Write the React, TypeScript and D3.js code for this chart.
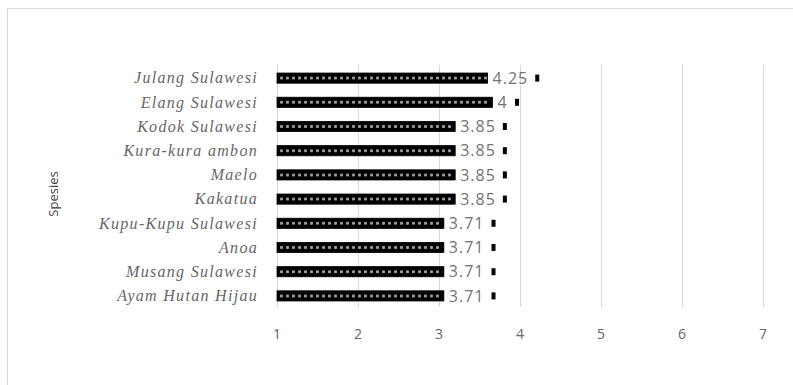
// horizontal bar chart of species scores, drawn with d3 into an svg ref
import React, { useEffect, useRef } from 'react';
import * as d3 from 'd3';

// categories top to bottom
const species = [
  'Julang Sulawesi',
  'Elang Sulawesi',
  'Kodok Sulawesi',
  'Kura-kura ambon',
  'Maelo',
  'Kakatua',
  'Kupu-Kupu Sulawesi',
  'Anoa',
  'Musang Sulawesi',
  'Ayam Hutan Hijau',
];
// the labelled scores (also where the small markers sit)
const scores = [4.25, 4, 3.85, 3.85, 3.85, 3.85, 3.71, 3.71, 3.71, 3.71];
// bar lengths as they are drawn in the picture
const barEnds = [3.6, 3.66, 3.2, 3.2, 3.2, 3.2, 3.06, 3.06, 3.06, 3.06];
const ticks = [1, 2, 3, 4, 5, 6, 7];

const App = () => {
  const ref = useRef<SVGSVGElement>(null);

  useEffect(() => {
    const width = 793;
    const height = 385;
    const svg = d3.select(ref.current);
    svg.selectAll('*').remove();
    svg.attr('width', width).attr('height', height).style('background', '#fff');

    const x = d3.scaleLinear().domain([1, 7]).range([277, 763]);
    const y = d3.scaleBand<string>().domain(species).range([66, 308]).paddingInner(0.58).paddingOuter(0.29);
    const bh = y.bandwidth();

    //pattern for the bars
    const defs = svg.append('defs');
    const pat = defs.append('pattern')
      .attr('id', 'dots')
      .attr('patternUnits', 'userSpaceOnUse')
      .attr('width', 6)
      .attr('height', 40)
      .attr('y', 0);
    pat.append('rect').attr('width', 6).attr('height', 40).attr('fill', '#000');

    //outer chart border (runs off the right and bottom edges)
    svg.append('rect')
      .attr('x', 7.5).attr('y', 8.5)
      .attr('width', width).attr('height', height)
      .attr('fill', 'none')
      .attr('stroke', '#d9d9d9');

    //gridlines
    svg.append('g')
      .selectAll('line')
      .data(ticks)
      .enter()
      .append('line')
        .attr('x1', d => x(d) + 0.5)
        .attr('x2', d => x(d) + 0.5)
        .attr('y1', 65)
        .attr('y2', 307)
        .attr('stroke', '#d9d9d9')
        .attr('stroke-width', 1);

    //tick labels
    svg.append('g')
      .selectAll('text')
      .data(ticks)
      .enter()
      .append('text')
        .attr('x', d => x(d))
        .attr('y', 334)
        .attr('dy', '0.35em')
        .attr('text-anchor', 'middle')
        .style('font-family', 'Open Sans')
        .style('font-size', '14px')
        .style('fill', '#666')
        .text(d => d);

    //bars
    const bars = svg.append('g');
    bars.selectAll('rect')
      .data(species)
      .enter()
      .append('rect')
        .attr('x', x(1))
        .attr('y', d => y(d)!)
        .attr('width', (d, i) => x(barEnds[i]) - x(1))
        .attr('height', bh)
        .attr('fill', '#000')
        .attr('stroke', '#000')
        .attr('stroke-width', 0.8);

    //the little light dots inside each bar
    species.forEach((s, i) => {
      const dots = d3.range(x(1) + 3, x(barEnds[i]) - 3, 6);
      bars.append('g')
        .selectAll('rect')
        .data(dots)
        .enter()
        .append('rect')
          .attr('x', d => d)
          .attr('y', y(s)! + bh / 2 - 1.5)
          .attr('width', 3)
          .attr('height', 3)
          .attr('rx', 1)
          .attr('fill', '#9a9a9a');
    });

    //value labels
    svg.append('g')
      .selectAll('text')
      .data(species)
      .enter()
      .append('text')
        .attr('x', (d, i) => x(barEnds[i]) + 5)
        .attr('y', d => y(d)! + bh / 2)
        .attr('dy', '0.36em')
        .style('font-family', 'Open Sans')
        .style('font-size', '16px')
        .style('letter-spacing', '1px')
        .style('fill', '#737373')
        .text((d, i) => scores[i]);

    //small markers at the score
    svg.append('g')
      .selectAll('rect')
      .data(species)
      .enter()
      .append('rect')
        .attr('x', (d, i) => x(scores[i]) - 5)
        .attr('y', d => y(d)! + bh / 2 - 3.5)
        .attr('width', 4)
        .attr('height', 7)
        .attr('fill', '#000');

    //category labels
    svg.append('g')
      .selectAll('text')
      .data(species)
      .enter()
      .append('text')
        .attr('x', 258)
        .attr('y', d => y(d)! + bh / 2)
        .attr('dy', '0.33em')
        .attr('text-anchor', 'end')
        .style('font-family', 'Liberation Serif')
        .style('font-style', 'italic')
        .style('font-size', '16px')
        .style('letter-spacing', '1.3px')
        .style('fill', '#666')
        .text(d => d);

    //y axis title
    svg.append('text')
      .attr('transform', 'translate(53,194) rotate(-90)')
      .attr('text-anchor', 'middle')
      .attr('dy', '0.35em')
      .style('font-family', 'Open Sans')
      .style('font-size', '13px')
      .style('fill', '#404040')
      .text('Spesies');
  }, []);

  return (
    <div style={{ position: 'absolute', left: 0, top: 0 }}>
      <svg ref={ref}></svg>
    </div>
  );
};

export default App;
